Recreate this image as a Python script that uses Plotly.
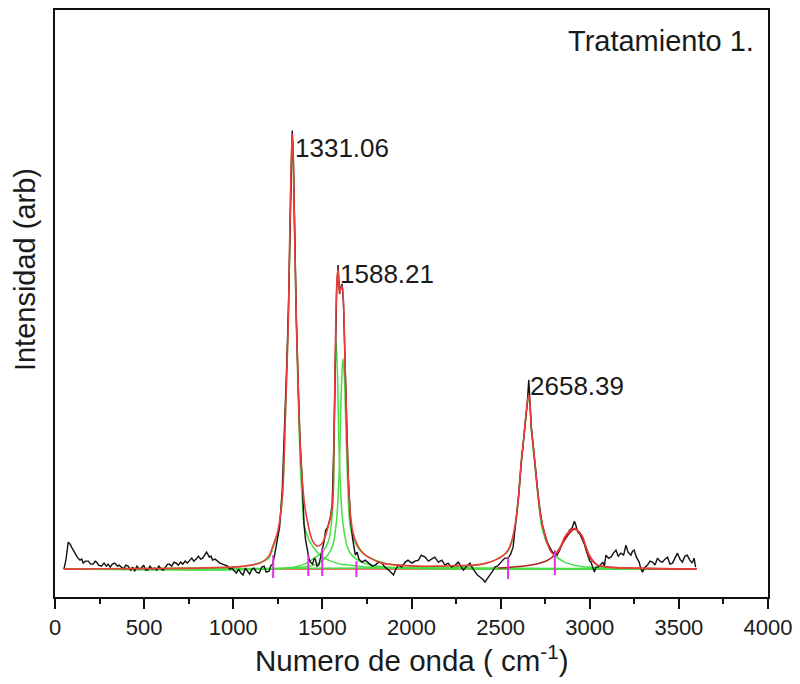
import plotly.graph_objects as go

# ---------------- data ----------------
# measured spectrum (black)
data_x = [50, 62, 74, 85, 93, 105, 112, 125, 140, 150, 158, 170, 186, 200, 214, 225, 233, 245, 261, 275,
          288, 298, 310, 322, 335, 350, 360, 372, 385, 397, 410, 425, 435, 447, 460, 472, 484, 497, 508, 521,
          533, 545, 559, 570, 583, 596, 608, 620, 632, 642, 655, 668, 680, 692, 705, 717, 730, 742, 754, 767,
          779, 792, 805, 817, 829, 840, 850, 857, 866, 875, 884, 898, 912, 925, 940, 955, 968, 980, 993, 1006,
          1018, 1030, 1043, 1055, 1068, 1080, 1092, 1105, 1117, 1130, 1145, 1160, 1173, 1185, 1201, 1210, 1220, 1230, 1238, 1248,
          1260, 1275, 1290, 1300, 1310, 1318, 1325, 1331, 1337, 1343, 1354, 1365, 1375, 1387, 1397, 1405, 1415, 1425, 1434, 1445,
          1455, 1462, 1470, 1480, 1490, 1499, 1510, 1518, 1530, 1545, 1555, 1565, 1572, 1580, 1588, 1596, 1604, 1611, 1618, 1625,
          1633, 1645, 1657, 1670, 1685, 1695, 1705, 1722, 1740, 1760, 1780, 1797, 1815, 1834, 1850, 1872, 1885, 1899, 1912, 1927,
          1945, 1965, 1980, 2002, 2020, 2039, 2055, 2076, 2095, 2113, 2130, 2151, 2170, 2188, 2205, 2225, 2245, 2263, 2275, 2291,
          2310, 2328, 2342, 2356, 2370, 2384, 2398, 2412, 2425, 2439, 2455, 2468, 2482, 2496, 2510, 2523, 2542, 2556, 2570, 2585,
          2600, 2615, 2628, 2640, 2650, 2658, 2664, 2672, 2682, 2695, 2710, 2722, 2735, 2747, 2760, 2775, 2790, 2803, 2817, 2831,
          2845, 2859, 2872, 2886, 2900, 2914, 2922, 2933, 2945, 2961, 2970, 2979, 2990, 3000, 3007, 3018, 3026, 3035, 3045, 3060,
          3073, 3082, 3091, 3105, 3119, 3133, 3147, 3160, 3175, 3190, 3203, 3215, 3231, 3240, 3249, 3262, 3277, 3287, 3296, 3310,
          3324, 3338, 3352, 3366, 3380, 3394, 3408, 3422, 3436, 3450, 3464, 3478, 3492, 3506, 3520, 3534, 3547, 3561, 3575, 3585, 3594]
data_y = [0, 10, 27, 25, 22, 18, 16, 12, 9, 10, 6, 8, 8, 5, 5, 8, 7, 4, 3, 6,
          3, 5, 2, 5, 6, 3, 4, 2, 0, 4, 3, -1, 2, -2, 3, 0, 1, 4, -1, -1,
          3, 0, 1, -1, 3, 0, -1, 2, 5, 5, 3, 7, 6, 4, 7, 5, 8, 6, 8, 11,
          8, 10, 13, 10, 11, 14, 17, 15, 12, 13, 9, 10, 8, 6, 5, 4, 3, 0, 1, -2,
          -4, 0, -4, -6, 1, -2, -5, 0, 1, -3, -4, 2, 3, -3, -2, 3, 5, 12, 20, 30,
          42, 80, 150, 205, 265, 345, 405, 440, 415, 352, 252, 183, 128, 90, 45, 30, 19, 10, 7, 5,
          11, 9, 3, 4, 12, 19, 28, 39, 42, 52, 65, 130, 200, 280, 305, 276, 283, 286, 268, 225,
          172, 95, 52, 30, 14, 17, 10, 7, 9, 6, 3, 4, 7, 6, 2, -1, -3, -6, 0, 4,
          2, 7, 9, 6, 8, 9, 14, 12, 8, 10, 12, 7, 9, 4, 6, 2, 4, 7, 3, -1,
          3, 6, 1, -3, -6, -8, -10, -13, -9, -6, -2, 2, 3, 6, 8, 11, 11, 15, 22, 45,
          72, 105, 128, 152, 168, 190, 170, 143, 126, 100, 75, 58, 44, 36, 28, 22, 17, 16, 14, 19,
          25, 31, 33, 39, 41, 48, 44, 37, 35, 29, 25, 19, 14, 8, 7, 0, -3, 2, 2, 4,
          7, 3, 14, 11, 12, 16, 19, 13, 16, 14, 24, 17, 14, 18, 19, 12, 7, 0, -3, 2,
          4, 8, 7, 4, 11, 8, 7, 10, 12, 5, 6, 11, 16, 10, 7, 13, 14, 9, 6, 11, 2]

# cumulative fit (red)
fit_x = [50, 300, 600, 800, 900, 1000, 1100, 1150, 1200, 1220, 1250, 1276, 1290, 1298, 1309, 1318, 1325, 1331, 1337, 1343,
         1354, 1365, 1375, 1387, 1400, 1415, 1443, 1471, 1499, 1527, 1555, 1565, 1570, 1576, 1582, 1588, 1593, 1598, 1604, 1611,
         1617, 1622, 1628, 1633, 1639, 1648, 1657, 1670, 1685, 1710, 1741, 1790, 1834, 1920, 2020, 2150, 2250, 2350, 2420, 2468,
         2510, 2542, 2565, 2579, 2592, 2602, 2616, 2628, 2635, 2645, 2652, 2658, 2664, 2672, 2682, 2691, 2700, 2709, 2722, 2737,
         2760, 2784, 2803, 2830, 2859, 2886, 2914, 2942, 2961, 2980, 2998, 3020, 3045, 3100, 3231, 3400, 3600]
fit_y = [0, 0.3, 0.6, 1, 1.5, 2, 4, 6, 13, 22, 38, 75, 140, 185, 250, 345, 405, 437, 410, 350,
         250, 180, 125, 89, 65, 49, 29, 23, 26, 39, 62, 130, 189, 255, 290, 301, 285, 277, 282, 284,
         272, 249, 200, 170, 122, 80, 56, 38, 29, 20, 14, 9, 6, 4, 3, 3, 3.5, 4, 6, 9,
         13, 19, 30, 42, 58, 76, 109, 128, 142, 160, 170, 175, 168, 142, 125, 109, 92, 76, 56, 42,
         27, 17, 14, 20, 32, 38, 41, 37, 32, 22, 14, 8, 4, 2, 1, 0.5, 0]

# fitted components (green)
d_x = [50, 800, 1000, 1100, 1200, 1220, 1250, 1276, 1290, 1298, 1309, 1318, 1325, 1331, 1337, 1343, 1354, 1365, 1375, 1387,
       1397, 1425, 1462, 1500, 1536, 1600, 1648, 1750, 1834, 2000, 2500, 3600]
d_y = [0, 1, 2, 4, 11, 20, 36, 72, 138, 183, 248, 343, 403, 434, 408, 347, 246, 170, 110, 70,
       45, 29, 19, 12, 9, 5, 4, 2, 1, 0.5, 0, 0]
g_x = [50, 1300, 1400, 1462, 1500, 1536, 1555, 1564, 1568, 1572, 1577, 1582, 1587, 1592, 1600, 1610, 1620, 1640, 1670, 1720,
       1800, 1900, 2100, 3600]
g_y = [0, 1, 5, 12, 17, 29, 55, 90, 150, 200, 228, 210, 180, 130, 90, 55, 40, 22, 13, 7,
       3, 1.5, 0.5, 0]
dp_x = [50, 1400, 1480, 1530, 1560, 1580, 1595, 1603, 1607, 1612, 1616, 1621, 1626, 1632, 1640, 1648, 1657, 1685, 1720, 1760,
        1850, 1927, 2100, 2400, 3600]
dp_y = [0, 2, 6, 14, 25, 50, 100, 160, 182, 205, 211, 200, 182, 140, 95, 60, 42, 26, 17, 12,
        6, 4, 2, 1, 0]
d2_x = [50, 1800, 2200, 2374, 2468, 2542, 2579, 2602, 2616, 2635, 2645, 2652, 2658, 2664, 2672, 2691, 2709, 2728, 2747, 2765,
        2803, 2859, 2951, 3045, 3300, 3600]
d2_y = [0, 1, 2, 4, 9, 18, 40, 74, 106, 140, 158, 168, 172, 166, 140, 106, 74, 45, 32, 24,
        14, 7, 2.5, 1.5, 0.5, 0]
# 2920 component (dark red)
dd_x = [2486, 2672, 2765, 2812, 2859, 2886, 2914, 2942, 2970, 2998, 3045, 3231, 3600]
dd_y = [1, 4, 9, 16, 29, 36, 40, 37, 26, 12, 4, 1, 0]

# baseline anchor points (magenta)
anchor_x = [1224, 1421, 1499, 1691, 2542, 2804]
anchor_top = [14, 14, 21, 8, 12, 19]
anchor_bot = [-9, -7, -7, -8, -10, -6]

baseline_x = [50, 3600]
baseline_y = [0, 0]

peak_labels = ["1331.06", "1588.21", "2658.39"]
peak_x = [1335, 1587, 2654]
peak_label_y = [423, 296, 184]

x_ticks = [0, 500, 1000, 1500, 2000, 2500, 3000, 3500, 4000]

# ---------------- figure ----------------
RED = "#ee3b3b"
GREEN = "#44e044"
FONT = "Liberation Sans, Arial, sans-serif"

fig = go.Figure()
fig.add_trace(go.Scatter(x=baseline_x, y=baseline_y, mode="lines",
                         line=dict(color=RED, width=1.5), hoverinfo="skip"))
for cx, cy in [(d_x, d_y), (g_x, g_y), (dp_x, dp_y), (d2_x, d2_y)]:
    fig.add_trace(go.Scatter(x=cx, y=cy, mode="lines",
                             line=dict(color=GREEN, width=1.5, shape="spline", smoothing=0.8)))
fig.add_trace(go.Scatter(x=data_x, y=data_y, mode="lines",
                         line=dict(color="#111111", width=1.4)))
fig.add_trace(go.Scatter(x=dd_x, y=dd_y, mode="lines",
                         line=dict(color="#b02020", width=1.5, shape="spline", smoothing=0.8)))
fig.add_trace(go.Scatter(x=fit_x, y=fit_y, mode="lines",
                         line=dict(color=RED, width=1.6, shape="spline", smoothing=0.8)))

ax, ay = [], []
for xa, t, b in zip(anchor_x, anchor_top, anchor_bot):
    ax += [xa, xa, None]
    ay += [b, t, None]
fig.add_trace(go.Scatter(x=ax, y=ay, mode="lines", line=dict(color="#e030e0", width=2)))

for lab, lx, ly in zip(peak_labels, peak_x, peak_label_y):
    fig.add_annotation(x=lx, y=ly, text=lab, showarrow=False, xanchor="left", yanchor="middle",
                       font=dict(family=FONT, size=26, color="#1a1a1a"))

fig.add_annotation(xref="paper", yref="paper", x=0.983, y=0.948, text="Tratamiento 1.",
                   showarrow=False, xanchor="right", yanchor="middle",
                   font=dict(family=FONT, size=29, color="#1a1a1a"))
fig.add_annotation(xref="paper", yref="paper", x=0.5, y=-0.105, text="Numero de onda ( cm<sup>-1</sup>)",
                   showarrow=False, xanchor="center", yanchor="middle",
                   font=dict(family=FONT, size=29.5, color="#1a1a1a"))
fig.add_annotation(xref="paper", yref="paper", x=-0.042, y=0.557, text="Intensidad (arb)", textangle=-90,
                   showarrow=False, xanchor="center", yanchor="middle",
                   font=dict(family=FONT, size=29, color="#1a1a1a"))

fig.update_layout(
    width=800, height=684,
    margin=dict(l=55, r=29, t=8, b=87),
    paper_bgcolor="white", plot_bgcolor="white",
    showlegend=False,
    font=dict(family=FONT, color="#1a1a1a"),
)
fig.update_xaxes(range=[0, 4000], tickvals=x_ticks, ticktext=[str(v) for v in x_ticks],
                 showgrid=False, zeroline=False, showline=True, linecolor="#111", linewidth=2, mirror=True,
                 ticks="outside", ticklen=10, tickwidth=2, tickcolor="#111",
                 minor=dict(dtick=250, tick0=0, ticks="outside", ticklen=5, tickwidth=2, tickcolor="#111"),
                 tickfont=dict(family=FONT, size=22, color="#1a1a1a"))
fig.update_yaxes(range=[-28, 561], showgrid=False, zeroline=False, showticklabels=False,
                 showline=True, linecolor="#111", linewidth=2, mirror=True, ticks="")

fig.write_html("out.html")
